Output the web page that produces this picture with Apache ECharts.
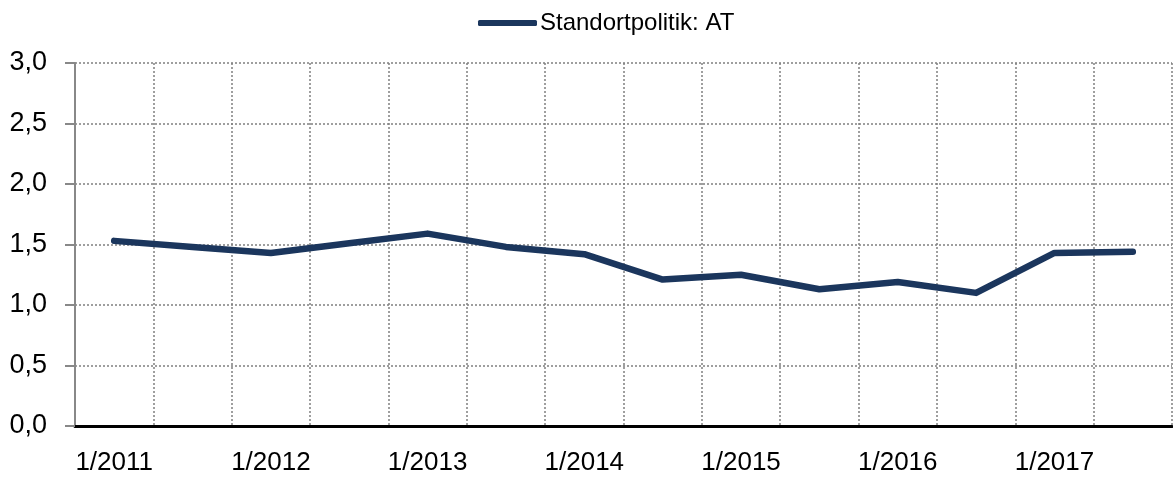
<!DOCTYPE html>
<html>
<head>
<meta charset="utf-8">
<script src="https://cdn.jsdelivr.net/npm/echarts@6/dist/echarts.min.js"></script>
<style>
  html, body { margin: 0; padding: 0; background: #fff; }
  #chart { width: 1173px; height: 480px; }
</style>
</head>
<body>
<div id="chart"></div>
<script>
// half-year periods
const categories = [
  "1/2011", "7/2011", "1/2012", "7/2012", "1/2013", "7/2013", "1/2014",
  "7/2014", "1/2015", "7/2015", "1/2016", "7/2016", "1/2017", "7/2017"
];
const seriesName = "Standortpolitik: AT";
const values = [1.53, 1.48, 1.43, 1.51, 1.59, 1.48, 1.42, 1.21, 1.25, 1.13, 1.19, 1.10, 1.43, 1.44];
const yTicks = [0, 0.5, 1, 1.5, 2, 2.5, 3];

const font = "'Liberation Sans Narrow', 'Arial Narrow', 'Liberation Sans', sans-serif";
const chart = echarts.init(document.getElementById("chart"));

chart.setOption({
  animation: false,
  textStyle: { fontFamily: font },
  legend: {
    left: 473,
    top: 6,
    icon: "roundRect",
    itemWidth: 59,
    itemHeight: 6,
    itemGap: 10,
    textStyle: { fontFamily: font, fontSize: 24, color: "#000", padding: [0, 0, 0, -2] },
    data: [seriesName],
  },
  grid: { left: 75, right: 1, top: 63, bottom: 54, containLabel: false },
  xAxis: {
    type: "category",
    data: categories,
    boundaryGap: true,
    axisLine: { lineStyle: { color: "#000", width: 3 } },
    axisTick: { show: false },
    axisLabel: {
      interval: 1,
      fontFamily: font,
      fontSize: 26,
      color: "#000",
      margin: 24,
    },
    splitLine: {
      show: true,
      interval: 0,
      lineStyle: { color: "#808080", type: [2, 2], width: 1.5 },
    },
  },
  yAxis: {
    type: "value",
    min: yTicks[0],
    max: yTicks[yTicks.length - 1],
    interval: 0.5,
    axisLine: { show: true, lineStyle: { color: "#888", width: 2 } },
    axisTick: { show: true, inside: false, length: 10, lineStyle: { color: "#888", width: 2 } },
    axisLabel: {
      fontFamily: font,
      fontSize: 27,
      color: "#000",
      margin: 28,
      formatter: (v) => v.toFixed(1).replace(".", ","),
    },
    splitLine: {
      show: true,
      lineStyle: { color: "#808080", type: [2, 2], width: 1.5 },
    },
  },
  series: [
    {
      name: seriesName,
      type: "line",
      data: values,
      showSymbol: false,
      symbol: "none",
      itemStyle: { color: "#1b365d" },
      lineStyle: { color: "#1b365d", width: 6.5, cap: "round", join: "round" },
    },
  ],
});
</script>
</body>
</html>
